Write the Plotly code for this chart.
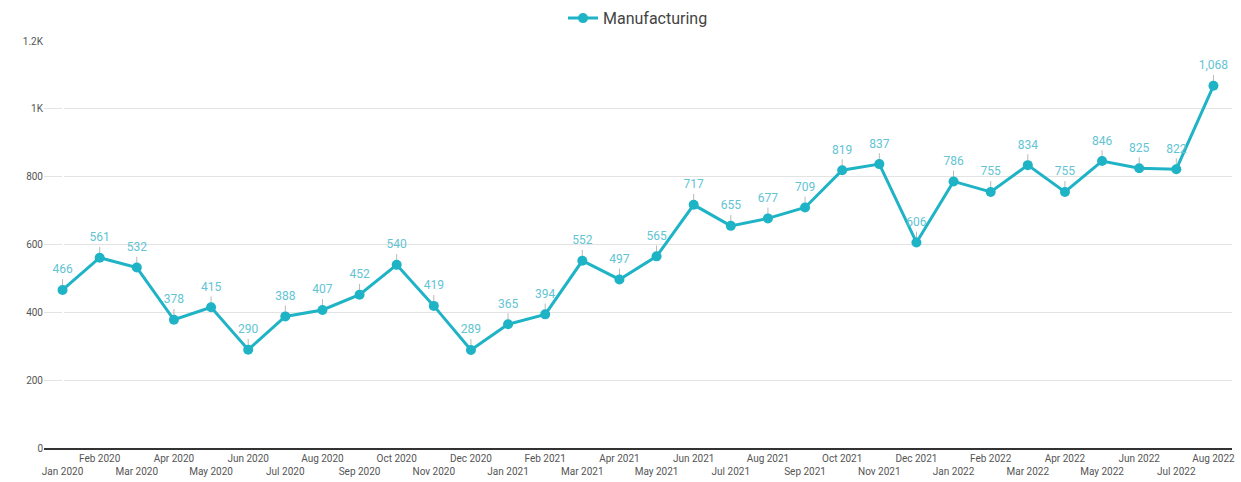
import plotly.graph_objects as go

months = ["Jan 2020", "Feb 2020", "Mar 2020", "Apr 2020", "May 2020", "Jun 2020", "Jul 2020", "Aug 2020",
          "Sep 2020", "Oct 2020", "Nov 2020", "Dec 2020", "Jan 2021", "Feb 2021", "Mar 2021", "Apr 2021",
          "May 2021", "Jun 2021", "Jul 2021", "Aug 2021", "Sep 2021", "Oct 2021", "Nov 2021", "Dec 2021",
          "Jan 2022", "Feb 2022", "Mar 2022", "Apr 2022", "May 2022", "Jun 2022", "Jul 2022", "Aug 2022"]
manufacturing = [466, 561, 532, 378, 415, 290, 388, 407, 452, 540, 419, 289, 365, 394, 552, 497,
                 565, 717, 655, 677, 709, 819, 837, 606, 786, 755, 834, 755, 846, 825, 822, 1068]
y_ticks = [0, 200, 400, 600, 800, 1000, 1200]
y_tick_labels = ["0", "200", "400", "600", "800", "1K", "1.2K"]

teal = "#1fb3c6"
label_col = "#62c4d3"

xs = list(range(len(months)))
ticktext = [m if i % 2 == 1 else "<br>" + m for i, m in enumerate(months)]

fig = go.Figure()
fig.add_trace(go.Scatter(
    x=xs, y=manufacturing, name="Manufacturing",
    mode="lines+markers",
    line=dict(color=teal, width=3),
    marker=dict(color=teal, size=10),
    error_y=dict(type="data", symmetric=False, array=[32] * len(months),
                 arrayminus=[0] * len(months), width=0, thickness=1, color="#b8b8b8"),
))
fig.add_trace(go.Scatter(
    x=xs, y=manufacturing, mode="markers+text", showlegend=False, hoverinfo="skip",
    marker=dict(size=20, opacity=0),
    text=[f"{v:,}" for v in manufacturing],
    textposition="top center",
    textfont=dict(family="Roboto", size=12, color=label_col),
    cliponaxis=False,
))

fig.update_layout(
    width=1241, height=482,
    margin=dict(l=44, r=9, t=41, b=34, autoexpand=False),
    paper_bgcolor="white", plot_bgcolor="white",
    font=dict(family="Roboto", color="#555555"),
    showlegend=True,
    legend=dict(orientation="h", x=0.5, xanchor="center", y=1.056, yanchor="middle",
                font=dict(size=16, color="#444444")),
    xaxis=dict(
        tickmode="array", tickvals=xs, ticktext=ticktext,
        range=[-0.5, len(months) - 0.5], automargin=False,
        showgrid=False, showline=True, linecolor="#333333", linewidth=1.5,
        ticks="", tickfont=dict(size=10, color="#555555"), tickangle=0,
    ),
    yaxis=dict(
        tickmode="array", tickvals=y_ticks, ticktext=y_tick_labels,
        range=[0, 1200], showgrid=True, gridcolor="#e3e3e3", gridwidth=1,
        zeroline=False, showline=False, ticks="", automargin=False,
        tickfont=dict(size=10, color="#555555"),
    ),
)

fig.write_html("out.html", config={"displayModeBar": False},
               post_script="document.body.style.margin='0';")
